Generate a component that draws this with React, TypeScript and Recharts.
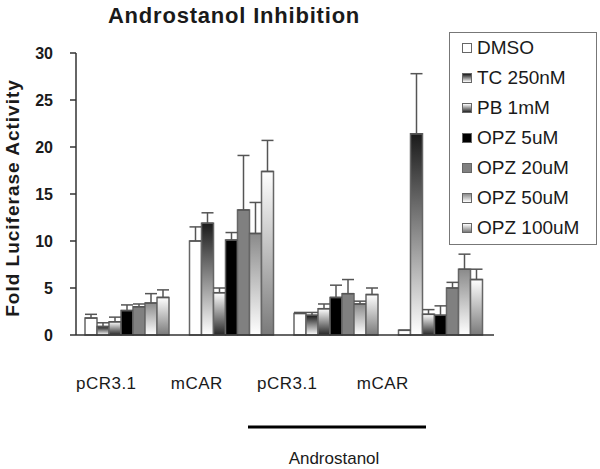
import { BarChart, Bar, XAxis, YAxis, ErrorBar } from "recharts";

const GROUPS = ["pCR3.1", "mCAR", "pCR3.1", "mCAR"];
const SERIES = ["DMSO", "TC 250nM", "PB 1mM", "OPZ 5uM", "OPZ 20uM", "OPZ 50uM", "OPZ 100uM"];

// fold activity, one row per treatment, one value per group
const MEANS = [
  [1.8, 10.0, 2.3, 0.5],
  [0.9, 11.9, 2.1, 21.4],
  [1.4, 4.5, 2.8, 2.2],
  [2.6, 10.1, 4.0, 2.1],
  [3.0, 13.3, 4.4, 5.0],
  [3.4, 10.8, 3.3, 7.0],
  [4.0, 17.4, 4.3, 5.9],
];
// upper error only
const ERRORS = [
  [0.4, 1.5, 0.1, 0],
  [0.4, 1.1, 0.3, 6.4],
  [0.5, 0.5, 0.5, 0.5],
  [0.6, 0.8, 1.3, 1.0],
  [0.3, 5.8, 1.5, 0.6],
  [1.0, 3.3, 0.3, 1.6],
  [0.8, 3.3, 0.7, 1.1],
];
const Y_TICKS = [0, 5, 10, 15, 20, 25, 30];

const GRADIENTS = [
  { id: "gTC", top: "#1a1a1a", bottom: "#ffffff" },
  { id: "gPB", top: "#ffffff", bottom: "#262626" },
  { id: "g50", top: "#8a8a8a", bottom: "#ffffff" },
  { id: "g100", top: "#ffffff", bottom: "#7a7a7a" },
];
const FILLS = ["#ffffff", "url(#gTC)", "url(#gPB)", "#000000", "#808080", "url(#g50)", "url(#g100)"];
const SWATCH = [
  "#ffffff",
  "linear-gradient(#1a1a1a, #ffffff)",
  "linear-gradient(#ffffff, #262626)",
  "#000000",
  "#808080",
  "linear-gradient(#8a8a8a, #ffffff)",
  "linear-gradient(#ffffff, #7a7a7a)",
];
const LABEL_SHIFT = [-22, -36, -50, -59];

const FONT = '"Liberation Sans", Arial, sans-serif';

const data = GROUPS.map((name, i) => {
  const row: Record<string, any> = { name };
  SERIES.forEach((_, j) => {
    row["s" + j] = MEANS[j][i];
    row["e" + j] = [0, ERRORS[j][i]];
  });
  return row;
});

function GroupTick(props: any) {
  const { x, y, payload, index } = props;
  return (
    <text
      x={x + LABEL_SHIFT[index]}
      y={y}
      dy="0.35em"
      textAnchor="middle"
      fontSize={17}
      letterSpacing={0.5}
      fill="#1a1a1a"
      fontFamily={FONT}
    >
      {payload.value}
    </text>
  );
}

export default function App() {
  return (
    <div style={{ position: "absolute", left: 0, top: 0, width: 600, height: 469, background: "#fff", fontFamily: FONT }}>
      <BarChart
        width={600}
        height={469}
        data={data}
        margin={{ top: 53, right: 106, bottom: 74, left: 16 }}
        barCategoryGap={9}
        barGap={0}
      >
        <defs>
          {GRADIENTS.map((g) => (
            <linearGradient key={g.id} id={g.id} x1="0" y1="0" x2="0" y2="1">
              <stop offset="0%" stopColor={g.top} />
              <stop offset="100%" stopColor={g.bottom} />
            </linearGradient>
          ))}
        </defs>
        <XAxis
          dataKey="name"
          height={60}
          tickLine={false}
          tickMargin={42}
          tick={<GroupTick />}
          axisLine={{ stroke: "#333", strokeWidth: 1.5 }}
          interval={0}
        />
        <YAxis
          width={60}
          domain={[0, 30]}
          ticks={Y_TICKS}
          tickSize={6}
          tickMargin={17}
          axisLine={{ stroke: "#333", strokeWidth: 1.5 }}
          tickLine={{ stroke: "#333", strokeWidth: 1.5 }}
          tick={{ fill: "#1a1a1a", fontSize: 16, fontWeight: 700, fontFamily: FONT }}
        />
        {SERIES.map((s, j) => (
          <Bar
            key={s}
            dataKey={"s" + j}
            name={s}
            fill={FILLS[j]}
            stroke="#666"
            strokeWidth={1.5}
            isAnimationActive={false}
          >
            <ErrorBar dataKey={"e" + j} width={6} stroke="#555" strokeWidth={1.5} direction="y" />
          </Bar>
        ))}
      </BarChart>

      <svg width={600} height={469} style={{ position: "absolute", left: 0, top: 0, pointerEvents: "none" }}>
        <text x={234} y={23} textAnchor="middle" fontSize={22} fontWeight={700} letterSpacing={0.8} fill="#1a1a1a" fontFamily={FONT}>
          Androstanol Inhibition
        </text>
        <text
          transform="translate(18.5,198) rotate(-90)"
          textAnchor="middle"
          fontSize={19}
          fontWeight={700}
          letterSpacing={1}
          fill="#1a1a1a"
          fontFamily={FONT}
        >
          Fold Luciferase Activity
        </text>
        <line x1={248} x2={426} y1={427} y2={427} stroke="#000" strokeWidth={3} />
        <text x={334} y={464} textAnchor="middle" fontSize={17} fill="#1a1a1a" fontFamily={FONT}>
          Androstanol
        </text>
      </svg>

      <div
        style={{
          position: "absolute",
          left: 449,
          top: 32,
          width: 148,
          height: 213,
          border: "1.5px solid #777",
          boxSizing: "border-box",
          background: "#fff",
        }}
      >
        {SERIES.map((s, j) => (
          <div key={s} style={{ height: 30, display: "flex", alignItems: "center" }}>
            <span
              style={{
                display: "inline-block",
                width: 8,
                height: 8,
                marginLeft: 12,
                border: "1.5px solid #666",
                background: SWATCH[j],
              }}
            />
            <span style={{ marginLeft: 5, fontSize: 19, color: "#1a1a1a", whiteSpace: "nowrap" }}>{s}</span>
          </div>
        ))}
      </div>
    </div>
  );
}
